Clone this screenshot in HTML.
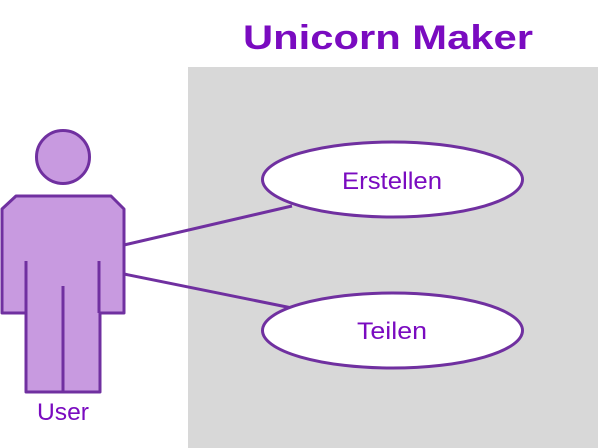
<!DOCTYPE html>
<html><head><meta charset="utf-8"><style>
html,body{margin:0;padding:0;background:#fff;}
svg{display:block;}
text{font-family:"Liberation Sans",sans-serif;}
</style></head><body>
<svg width="598" height="448" viewBox="0 0 598 448" xmlns="http://www.w3.org/2000/svg">
<rect x="188" y="67" width="410" height="381" fill="#d8d8d8"/>
<text x="243" y="49" textLength="290" lengthAdjust="spacingAndGlyphs" font-size="34" font-weight="bold" fill="#7a0bc0">Unicorn Maker</text>
<g stroke="#7030a0" stroke-width="3" fill="none">
<line x1="124" y1="245" x2="292" y2="206"/>
<line x1="124" y1="274" x2="292" y2="308"/>
</g>
<ellipse cx="392.5" cy="179.5" rx="130" ry="37.5" fill="#fff" stroke="#7030a0" stroke-width="3"/>
<ellipse cx="392.5" cy="330.5" rx="130" ry="37.5" fill="#fff" stroke="#7030a0" stroke-width="3"/>
<text x="342" y="189" textLength="100" lengthAdjust="spacingAndGlyphs" font-size="24" fill="#7a0bc0">Erstellen</text>
<text x="357" y="339" textLength="70" lengthAdjust="spacingAndGlyphs" font-size="24" fill="#7a0bc0">Teilen</text>
<circle cx="63" cy="157" r="26.5" fill="#c89ae0" stroke="#7030a0" stroke-width="3"/>
<path d="M16 196 L111 196 L124 209 L124 313 L100 313 L100 392 L26 392 L26 313 L2 313 L2 209 Z" fill="#c89ae0" stroke="#7030a0" stroke-width="3" stroke-linejoin="round"/>
<g stroke="#7030a0" stroke-width="3">
<line x1="26" y1="261" x2="26" y2="313"/>
<line x1="99" y1="261" x2="99" y2="313"/>
<line x1="63" y1="286" x2="63" y2="392"/>
</g>
<text x="37" y="420" textLength="52" lengthAdjust="spacingAndGlyphs" font-size="24" fill="#7a0bc0">User</text>
</svg>
</body></html>
